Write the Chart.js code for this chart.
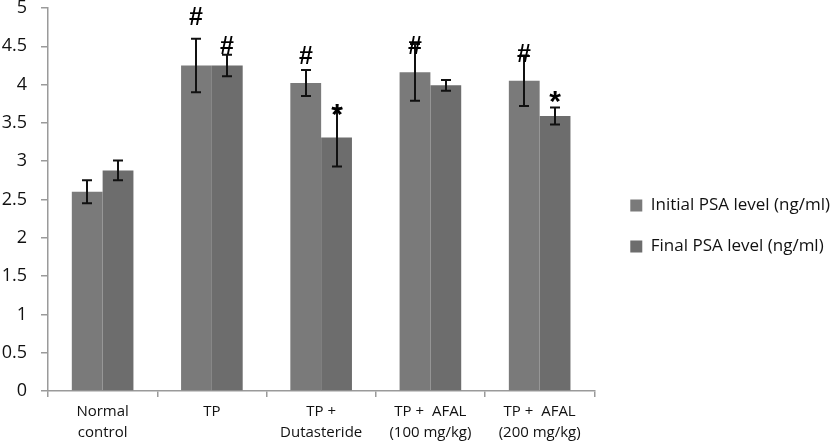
<!DOCTYPE html>
<html>
<head>
<meta charset="utf-8">
<script src="https://cdn.jsdelivr.net/npm/chart.js@4.4.1/dist/chart.umd.min.js"></script>
<style>
  html, body { margin: 0; padding: 0; background: #fff; }
  #wrap { width: 840px; height: 444px; }
</style>
</head>
<body>
<div id="wrap"><canvas id="c" width="840" height="444"></canvas></div>
<script>
const categories = [["Normal", "control"], "TP", ["TP +", "Dutasteride"], ["TP +  AFAL", "(100 mg/kg)"], ["TP +  AFAL", "(200 mg/kg)"]];
const seriesNames = ["Initial PSA level (ng/ml)", "Final PSA level (ng/ml)"];
const initialPSA = [2.60, 4.25, 4.02, 4.16, 4.05];
const finalPSA = [2.88, 4.25, 3.31, 3.99, 3.59];
const initialErr = [0.15, 0.35, 0.17, 0.37, 0.33];
const finalErr = [0.13, 0.14, 0.38, 0.07, 0.11];
const initialMarks = [null, "#", "#", "#", "#"];
const initialMarkY = [null, 4.90, 4.39, 4.52, 4.41];
const finalMarks = [null, "#", "*", null, "*"];
const finalMarkY = [null, 4.52, 3.67, null, 3.84];
const yTicks = [0, 0.5, 1, 1.5, 2, 2.5, 3, 3.5, 4, 4.5, 5];

const FONT = "'Open Sans', sans-serif";

const errorBars = {
  id: 'errorBars',
  afterDatasetsDraw(chart) {
    const ctx = chart.ctx;
    const y = chart.scales.y;
    const errs = [initialErr, finalErr];
    const marks = [initialMarks, finalMarks];
    const markYs = [initialMarkY, finalMarkY];
    ctx.save();
    chart.data.datasets.forEach((ds, i) => {
      const meta = chart.getDatasetMeta(i);
      meta.data.forEach((bar, j) => {
        const v = ds.data[j];
        const e = errs[i][j];
        const x = Math.round(bar.x);
        const yt = y.getPixelForValue(v + e);
        const yb = y.getPixelForValue(v - e);
        ctx.strokeStyle = '#111';
        ctx.lineWidth = 2;
        ctx.beginPath();
        ctx.moveTo(x, yt); ctx.lineTo(x, yb);
        ctx.moveTo(x - 5, yt); ctx.lineTo(x + 5, yt);
        ctx.moveTo(x - 5, yb); ctx.lineTo(x + 5, yb);
        ctx.stroke();
        const m = marks[i][j];
        if (m) {
          const my = y.getPixelForValue(markYs[i][j]);
          ctx.fillStyle = '#000';
          ctx.font = m === '*' ? "bold 30px 'Liberation Sans', sans-serif" : "bold 25px 'Liberation Sans', sans-serif";
          ctx.textAlign = 'center';
          ctx.textBaseline = 'alphabetic';
          const tm = ctx.measureText(m);
          const off = (tm.actualBoundingBoxAscent - tm.actualBoundingBoxDescent) / 2;
          ctx.fillText(m, x, my + off);
        }
      });
    });
    ctx.restore();
  }
};

new Chart(document.getElementById('c'), {
  type: 'bar',
  data: {
    labels: categories,
    datasets: [
      { label: seriesNames[0], data: initialPSA, backgroundColor: '#7a7a7a', borderWidth: 0 },
      { label: seriesNames[1], data: finalPSA, backgroundColor: '#6d6d6d', borderWidth: 0 }
    ]
  },
  options: {
    responsive: false,
    animation: false,
    devicePixelRatio: 1,
    layout: { padding: { top: 8, right: 0, bottom: 0, left: 0 } },
    datasets: { bar: { categoryPercentage: 0.564, barPercentage: 1.0 } },
    plugins: {
      tooltip: { enabled: false },
      legend: {
        position: 'right',
        align: 'center',
        maxWidth: 248,
        labels: {
          boxWidth: 12, boxHeight: 12, padding: 24,
          color: '#111',
          font: { family: FONT, size: 17 }
        }
      }
    },
    scales: {
      x: {
        grid: { display: true, drawOnChartArea: false, drawTicks: true, tickLength: 6, offset: true, color: '#9a9a9a', lineWidth: 1.5 },
        border: { display: true, color: '#9a9a9a', width: 1.5 },
        ticks: { color: '#111', font: { family: FONT, size: 15, lineHeight: 1.4 }, padding: 4, maxRotation: 0, autoSkip: false },
        afterFit(s) { s.height = 53; s.paddingLeft = 0; s.paddingRight = 0; }
      },
      y: {
        min: 0, max: 5,
        afterBuildTicks(s) { s.ticks = yTicks.map(v => ({ value: v })); },
        grid: { display: true, drawOnChartArea: false, drawTicks: true, tickLength: 7, color: '#9a9a9a', lineWidth: 1.5 },
        border: { display: true, color: '#9a9a9a', width: 1.5 },
        ticks: { color: '#111', font: { family: FONT, size: 18 }, padding: 14, callback: v => String(v) },
        afterFit(s) { s.width = 48; s.paddingTop = 0; s.paddingBottom = 0; }
      },
      yR: {
        type: 'linear',
        position: 'right',
        display: true,
        grid: { display: false },
        border: { display: false },
        ticks: { display: false },
        afterFit(s) { s.width = 12; s.paddingTop = 0; s.paddingBottom = 0; }
      }
    }
  },
  plugins: [errorBars]
});
</script>
</body>
</html>
